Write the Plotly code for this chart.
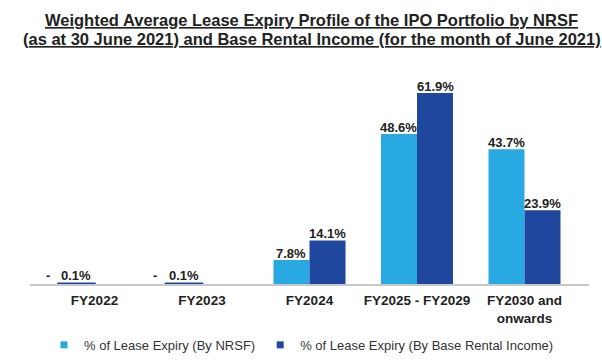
import plotly.graph_objects as go

categories = ["FY2022", "FY2023", "FY2024", "FY2025 - FY2029", "FY2030 and<br>onwards"]
nrsf = [0.0, 0.0, 7.8, 48.6, 43.7]
rental = [0.1, 0.1, 14.1, 61.9, 23.9]
nrsf_labels = ["-", "-", "7.8%", "48.6%", "43.7%"]
rental_labels = ["0.1%", "0.1%", "14.1%", "61.9%", "23.9%"]
series_names = ["% of Lease Expiry (By NRSF)", "% of Lease Expiry (By Base Rental Income)"]
title_lines = ["Weighted Average Lease Expiry Profile of the IPO Portfolio by NRSF",
               "(as at 30 June 2021) and Base Rental Income (for the month of June 2021)"]

LIGHT = "#29A9E1"
DARK = "#1F479E"
W = 0.335
FONT = "Liberation Sans, Arial, sans-serif"

fig = go.Figure()
fig.add_trace(go.Bar(
    x=categories, y=nrsf, name=series_names[0], showlegend=False,
    marker=dict(color=LIGHT, line=dict(width=0)),
    width=W, offset=-W, hoverinfo="skip",
))
fig.add_trace(go.Bar(
    x=categories, y=rental, name=series_names[1], showlegend=False,
    marker=dict(color=DARK, line=dict(color=DARK, width=[2.5, 2.5, 0, 0, 0])),
    width=W, offset=[-W, -W, 0, 0, 0], hoverinfo="skip",
))
# legend entries with small square swatches
for name, col in zip(series_names, [LIGHT, DARK]):
    fig.add_trace(go.Scatter(
        x=[None], y=[None], mode="markers", name=name,
        marker=dict(symbol="square", size=7, color=col), hoverinfo="skip",
    ))

lab_font = dict(family=FONT, size=13, color="#222222", weight="bold")
bar_px = W * 107.5 / 2
for i, c in enumerate(categories):
    xs = -47 if nrsf[i] == 0 else -bar_px
    ys = -1 if nrsf[i] == 0 else -3
    fig.add_annotation(x=c, y=nrsf[i], text=nrsf_labels[i], showarrow=False,
                       yanchor="bottom", xanchor="center", xshift=xs, yshift=ys, font=lab_font)
    xs2 = -bar_px if i < 2 else bar_px
    ys2 = -1 if i < 2 else -3
    fig.add_annotation(x=c, y=rental[i], text=rental_labels[i], showarrow=False,
                       yanchor="bottom", xanchor="center", xshift=xs2, yshift=ys2, font=lab_font)

title_font = dict(family=FONT, size=16.5, color="#222222", weight="bold")
for line, ypx in zip(title_lines, [20, 39]):
    fig.add_annotation(xref="paper", yref="paper", x=0.5, y=(284 - ypx) / 216,
                       xshift=2, text="<u>" + line + "</u>", showarrow=False,
                       xanchor="center", yanchor="middle", font=title_font)

fig.update_layout(
    width=602, height=363,
    margin=dict(l=30, r=13, t=68, b=79, autoexpand=False),
    paper_bgcolor="white", plot_bgcolor="white",
    barmode="overlay",
    xaxis=dict(
        type="category", range=[-0.6, 4.6],
        showline=True, linecolor="#C8C8C8", linewidth=2, layer="below traces",
        ticks="", showgrid=False, zeroline=False, ticklabelstandoff=3,
        tickfont=dict(family=FONT, size=13.5, color="#222222", weight="bold"),
    ),
    yaxis=dict(visible=False, range=[0, 70], showgrid=False, zeroline=False),
    showlegend=True,
    legend=dict(
        orientation="h", x=0.025, xanchor="left", y=-0.282, yanchor="middle",
        traceorder="normal",
        font=dict(family=FONT, size=13, color="#333333"),
        itemclick=False, itemdoubleclick=False,
    ),
)

fig.write_html("out.html", config={"displayModeBar": False},
               post_script="document.body.style.margin='0';")
